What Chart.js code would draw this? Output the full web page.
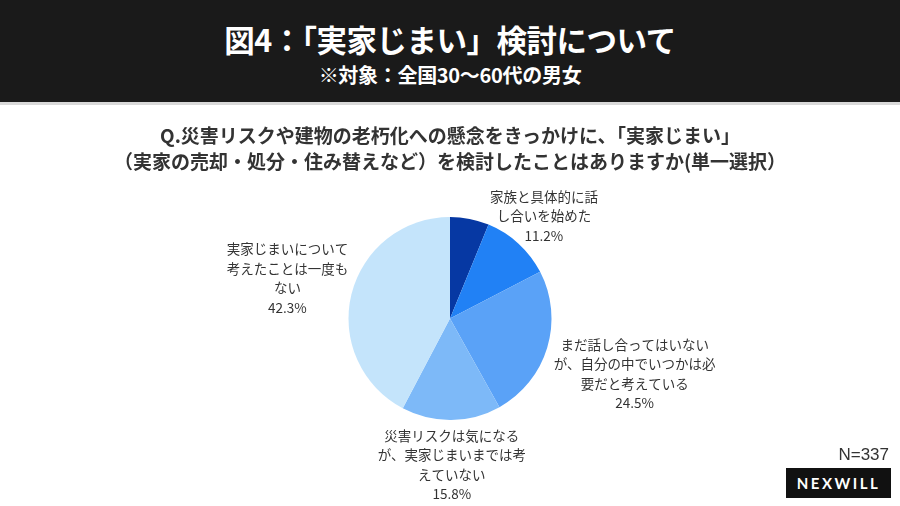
<!DOCTYPE html>
<html>
<head>
<meta charset="utf-8">
<script src="https://cdn.jsdelivr.net/npm/chart.js@4.4.1/dist/chart.umd.min.js"></script>
<style>
  html, body { margin:0; padding:0; width:900px; height:506px; background:#fff; overflow:hidden; }
  body { position:relative; font-family:"Noto Sans CJK JP","Noto Sans",sans-serif; }
  #band { position:absolute; left:0; top:0; width:900px; height:102px; background:#1a1a1a; }
  #bandline { position:absolute; left:0; top:102px; width:900px; height:3px; background:#d9d9d9; }
  #title { position:absolute; left:0; top:17px; width:900px; text-align:center; color:#fff; font-weight:700; font-size:30.5px; line-height:44px; letter-spacing:-0.5px; }
  #sub { position:absolute; left:0; top:61px; width:900px; text-align:center; color:#fff; font-weight:700; font-size:20px; line-height:27px; letter-spacing:-0.3px; }
  #q { position:absolute; left:0; top:122px; width:900px; text-align:center; color:#333; font-weight:700; font-size:19px; line-height:26px; letter-spacing:0px; }
  #wrap { position:absolute; left:0; top:0; width:900px; height:506px; }
  #n { position:absolute; right:11px; top:444px; color:#333; font-family:"Liberation Sans",Arial,sans-serif; font-size:17px; line-height:22px; }
  #logo { position:absolute; left:786px; top:468px; width:105px; height:30px; background:#111; color:#fff; font-family:"Lato","Liberation Sans",sans-serif; font-weight:700; font-size:15px; line-height:30px; text-align:center; letter-spacing:2.5px; }
</style>
</head>
<body>
<div id="wrap"><canvas id="c"></canvas></div>
<div id="band"></div>
<div id="bandline"></div>
<div id="title">図4：「実家じまい」検討について</div>
<div id="sub">※対象：全国30〜60代の男女</div>
<div id="q">Q.災害リスクや建物の老朽化への懸念をきっかけに、「実家じまい」<br>（実家の売却・処分・住み替えなど）を検討したことはありますか(単一選択）</div>
<div id="n">N=337</div>
<div id="logo">NEXWILL</div>
<script>
const categories = [
  "具体的に実家じまいを進めている",
  "家族と具体的に話し合いを始めた",
  "まだ話し合ってはいないが、自分の中でいつかは必要だと考えている",
  "災害リスクは気になるが、実家じまいまでは考えていない",
  "実家じまいについて考えたことは一度もない"
];
const values = [6.2, 11.2, 24.5, 15.8, 42.3];
const labelLines = [
  [],
  ["家族と具体的に話", "し合いを始めた"],
  ["まだ話し合ってはいない", "が、自分の中でいつかは必", "要だと考えている"],
  ["災害リスクは気になる", "が、実家じまいまでは考", "えていない"],
  ["実家じまいについて", "考えたことは一度も", "ない"]
];
const colors = ["#0638a3", "#2181f5", "#5aa2f7", "#7db9f8", "#c4e4fb"];
const labelDist = [0, 1.37, 1.90, 1.44, 1.65];

const labelPlugin = {
  id: "pieLabels",
  afterDatasetsDraw(chart) {
    const ctx = chart.ctx;
    const meta = chart.getDatasetMeta(0);
    ctx.save();
    ctx.font = '13.5px "Noto Sans CJK JP", sans-serif';
    ctx.fillStyle = "#333";
    ctx.textAlign = "center";
    ctx.textBaseline = "middle";
    const lh = 19.5;
    meta.data.forEach((arc, i) => {
      if (!labelLines[i].length) return;
      const p = arc.getProps(["x","y","startAngle","endAngle","outerRadius"], true);
      const mid = (p.startAngle + p.endAngle) / 2;
      const d = p.outerRadius * labelDist[i];
      const cx = p.x + Math.cos(mid) * d;
      const cy = p.y + Math.sin(mid) * d;
      const lines = labelLines[i].concat([values[i].toFixed(1) + "%"]);
      const y0 = cy - (lines.length - 1) * lh / 2;
      lines.forEach((t, k) => ctx.fillText(t, cx, y0 + k * lh));
    });
    ctx.restore();
  }
};

new Chart(document.getElementById("c"), {
  type: "pie",
  data: {
    labels: categories,
    datasets: [{ data: values, backgroundColor: colors, borderWidth: 0 }]
  },
  options: {
    responsive: true,
    maintainAspectRatio: false,
    animation: false,
    layout: { padding: { top: 217, bottom: 86, left: 0, right: 0 } },
    plugins: { legend: { display: false }, tooltip: { enabled: false } }
  },
  plugins: [labelPlugin]
});
</script>
</body>
</html>
